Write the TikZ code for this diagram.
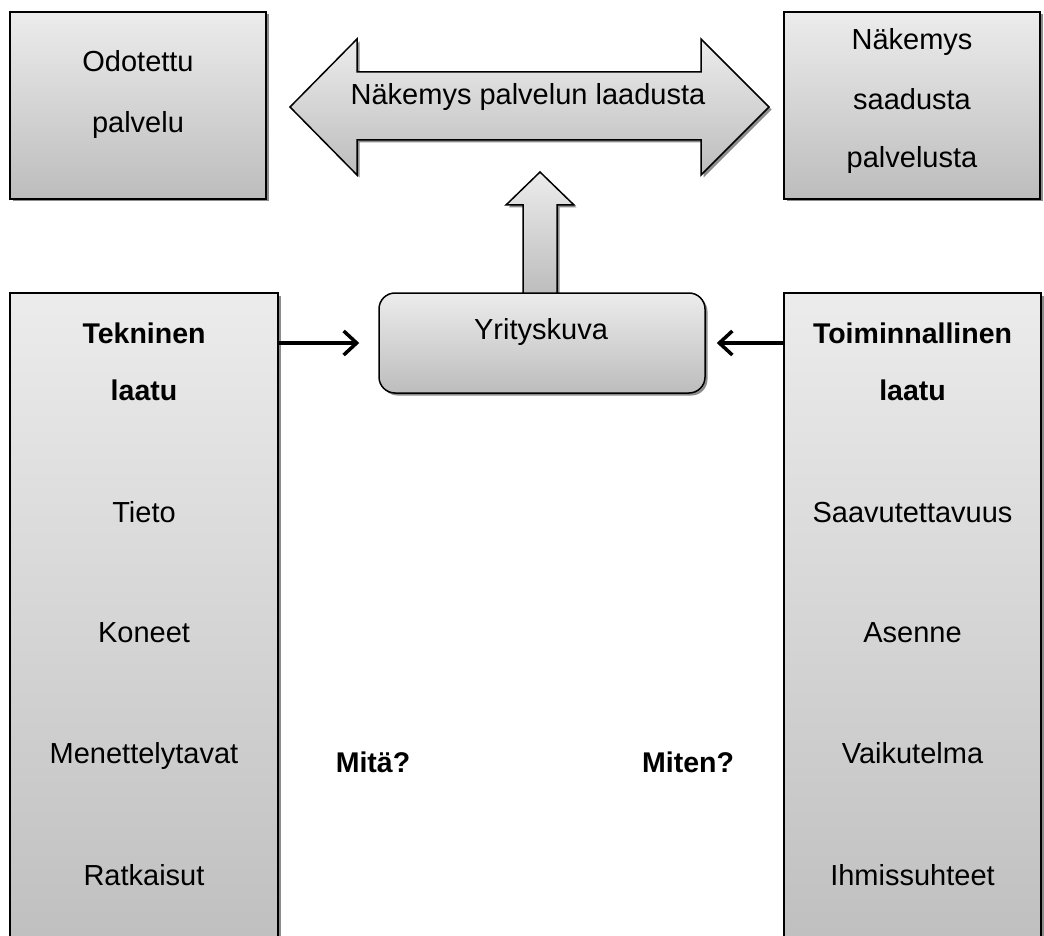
\documentclass[tikz,border=0pt]{standalone}
\usepackage{fontspec}
\setmainfont{Liberation Sans}
\usetikzlibrary{shadows,arrows.meta}
\begin{document}
\begin{tikzpicture}[x=1pt,y=-1pt,
  box/.style={draw=black, line width=1.5pt, top color=gray!15, bottom color=gray!52,
    drop shadow={shadow xshift=2.5pt,shadow yshift=-2.5pt,fill=black,opacity=0.45}, inner sep=0pt},
  lbl/.style={font=\fontsize{29}{34}\selectfont, anchor=base, inner sep=0pt},
  blbl/.style={font=\fontsize{28.5}{34}\selectfont\bfseries, anchor=base, inner sep=0pt},
  conn/.style={line width=3.5pt, -{Straight Barb[length=13pt,width=24pt]}}]
\useasboundingbox (0,0) rectangle (1044,936);
\clip (0,0) rectangle (1044,936);

% top boxes
\node[box, minimum width=256pt, minimum height=187pt] (exp) at (138,105.5) {};
\node[lbl] (exp1) at (138,72) {Odotettu};
\node[lbl] (exp2) at (138,133) {palvelu};

\node[box, minimum width=256pt, minimum height=187pt] (per) at (912,105.5) {};
\node[lbl] (per1) at (912,50) {Näkemys};
\node[lbl] (per2) at (912,110) {saadusta};
\node[lbl] (per3) at (912,168) {palvelusta};

% double block arrow
\draw[box] (290,107) -- (357,39) -- (357,72) -- (701,72) -- (701,39) -- (769,107)
  -- (701,175) -- (701,140) -- (357,140) -- (357,175) -- cycle;
\node[lbl] (qual) at (528,105) {Näkemys palvelun laadusta};

% up block arrow
\draw[box] (540,172) -- (574,205) -- (557,205) -- (557,294) -- (523,294) -- (523,205) -- (506,205) -- cycle;

% Yrityskuva
\node[box, rounded corners=16pt, minimum width=326pt, minimum height=100pt] (yk) at (542,343) {};
\node[lbl] (yklbl) at (541,339) {Yrityskuva};

% tall boxes
\node[box, minimum width=268pt, minimum height=690pt] (tek) at (144,638) {};
\node[blbl] (tek1) at (144,343) {Tekninen};
\node[blbl] (tek2) at (144,400) {laatu};
\node[lbl] (tek3) at (144,522) {Tieto};
\node[lbl] (tek4) at (144,642) {Koneet};
\node[lbl] (tek5) at (144,763) {Menettelytavat};
\node[lbl] (tek6) at (144,885) {Ratkaisut};

\node[box, minimum width=257pt, minimum height=690pt] (toi) at (912.5,638) {};
\node[blbl] (toi1) at (912.5,343) {Toiminnallinen};
\node[blbl] (toi2) at (912.5,400) {laatu};
\node[lbl] (toi3) at (912.5,522) {Saavutettavuus};
\node[lbl] (toi4) at (912.5,642) {Asenne};
\node[lbl] (toi5) at (912.5,763) {Vaikutelma};
\node[lbl] (toi6) at (912.5,885) {Ihmissuhteet};

% connectors
\draw[conn, shorten >=19pt] (yk.west -| tek.east) -- (yk.west);
\draw[conn, shorten >=11pt] (yk.east -| toi.west) -- (yk.east);

\node[blbl] (mita) at (373,772) {Mitä?};
\node[blbl] (miten) at (688,772) {Miten?};
\end{tikzpicture}
\end{document}
